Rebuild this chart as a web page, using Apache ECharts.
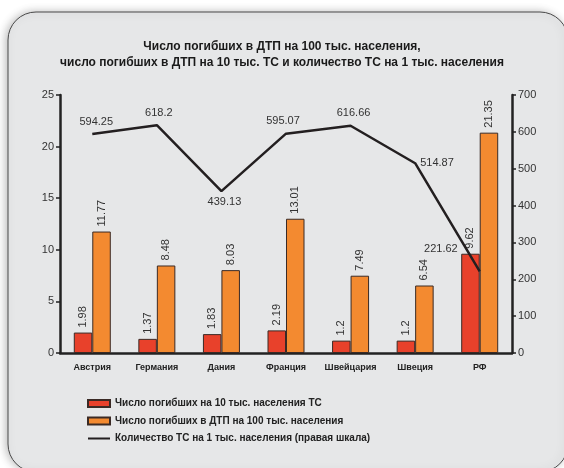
<!DOCTYPE html>
<html><head><meta charset="utf-8">
<script src="https://cdn.jsdelivr.net/npm/echarts@6/dist/echarts.min.js"></script>
<style>html,body{margin:0;padding:0;background:#fff}#c{width:564px;height:468px}</style>
</head><body><div id="c"></div>
<script>
const categories = ['Австрия','Германия','Дания','Франция','Швейцария','Швеция','РФ'];
const deathsPer10kVehicles = [1.98, 1.37, 1.83, 2.19, 1.2, 1.2, 9.62];
const deathsPer100kPop = [11.77, 8.48, 8.03, 13.01, 7.49, 6.54, 21.35];
const vehiclesPer1kPop = [594.25, 618.2, 439.13, 595.07, 616.66, 514.87, 221.62];
const leftTicks = {min: 0, max: 25, interval: 5};
const rightTicks = {min: 0, max: 700, interval: 100};
const seriesNames = ['Число погибших на 10 тыс. населения ТС','Число погибших в ДТП на 100 тыс. населения','Количество ТС на 1 тыс. населения (правая шкала)'];

const lineLabelCfg = [
  {position:'top', offset:[4,-2]},
  {position:'top', offset:[2,-2]},
  {position:'bottom', offset:[3,0]},
  {position:'top', offset:[-3,-2]},
  {position:'top', offset:[3,-2]},
  {position:'right', offset:[0,0]},
  {position:'left', offset:[-17,-22]}
];
const lineData = vehiclesPer1kPop.map((v,i)=>({value:v, label:lineLabelCfg[i]}));

const chart = echarts.init(document.getElementById('c'), null, {renderer:'canvas'});
const axisTxt = {color:'#333', fontSize:11, fontFamily:'Liberation Sans'};
chart.setOption({
  backgroundColor:'#fff',
  animation:false,
  graphic:[{type:'rect', z:-10, shape:{x:8,y:12,width:560,height:460,r:28},
    style:{fill:'#e6e7e8', stroke:'#4a4a4a', lineWidth:1, shadowBlur:8, shadowColor:'rgba(0,0,0,0.25)', shadowOffsetX:-2, shadowOffsetY:0}}],
  title:{text:'Число погибших в ДТП на 100 тыс. населения,\nчисло погибших в ДТП на 10 тыс. ТС и количество ТС на 1 тыс. населения',
    left:'center', top:34, textStyle:{fontFamily:'Liberation Sans', fontWeight:'bold', fontSize:12, lineHeight:16, color:'#1a1a1a'}},
  grid:{left:60, right:52, top:95, bottom:115},
  legend:{orient:'vertical', left:82, top:393, itemWidth:22, itemHeight:7, itemGap:6.5,
    textStyle:{fontFamily:'Liberation Sans', fontSize:10, color:'#222', fontWeight:'bold', lineHeight:11},
    data:[{name:seriesNames[0], icon:'rect'},{name:seriesNames[1], icon:'rect'},
      {name:seriesNames[2], icon:'path://M0,0M0,7M0,2.5H22V4.5H0Z'}]},
  xAxis:{type:'category', data:categories,
    axisLine:{lineStyle:{color:'#222', width:2.5}}, axisTick:{show:false},
    axisLabel:{interval:0, fontFamily:'Liberation Sans', fontSize:9, fontWeight:'bold', color:'#222', margin:10}},
  yAxis:[
    {type:'value', min:leftTicks.min, max:leftTicks.max, interval:leftTicks.interval,
      axisLine:{show:true, lineStyle:{color:'#222', width:2.5}},
      axisTick:{show:true, length:4, lineStyle:{color:'#222', width:1.5}},
      splitLine:{show:false}, axisLabel:Object.assign({margin:6}, axisTxt)},
    {type:'value', min:rightTicks.min, max:rightTicks.max, interval:rightTicks.interval, position:'right',
      axisLine:{show:true, lineStyle:{color:'#222', width:2.5}},
      axisTick:{show:true, length:4, lineStyle:{color:'#222', width:1.5}},
      splitLine:{show:false}, axisLabel:Object.assign({margin:6}, axisTxt)}
  ],
  series:[
    {name:seriesNames[0], type:'bar', data:deathsPer10kVehicles, barWidth:18.5, barGap:'0%',
      itemStyle:{color:'#e8412b', borderColor:'#3a2a25', borderWidth:1},
      label:{show:true, position:'top', rotate:90, align:'left', verticalAlign:'middle', distance:5, color:'#333', fontSize:11, fontFamily:'Liberation Sans'}},
    {name:seriesNames[1], type:'bar', data:deathsPer100kPop, barWidth:18.5,
      itemStyle:{color:'#f38a30', borderColor:'#3a2a25', borderWidth:1},
      label:{show:true, position:'top', rotate:90, align:'left', verticalAlign:'middle', distance:5, color:'#333', fontSize:11, fontFamily:'Liberation Sans'}},
    {name:seriesNames[2], type:'line', yAxisIndex:1, data:lineData, symbol:'circle', symbolSize:0,
      lineStyle:{color:'#231f20', width:2.5}, itemStyle:{color:'#231f20'}, z:5,
      label:{show:true, color:'#333', fontSize:11, fontFamily:'Liberation Sans', distance:5}}
  ]
});
</script></body></html>
